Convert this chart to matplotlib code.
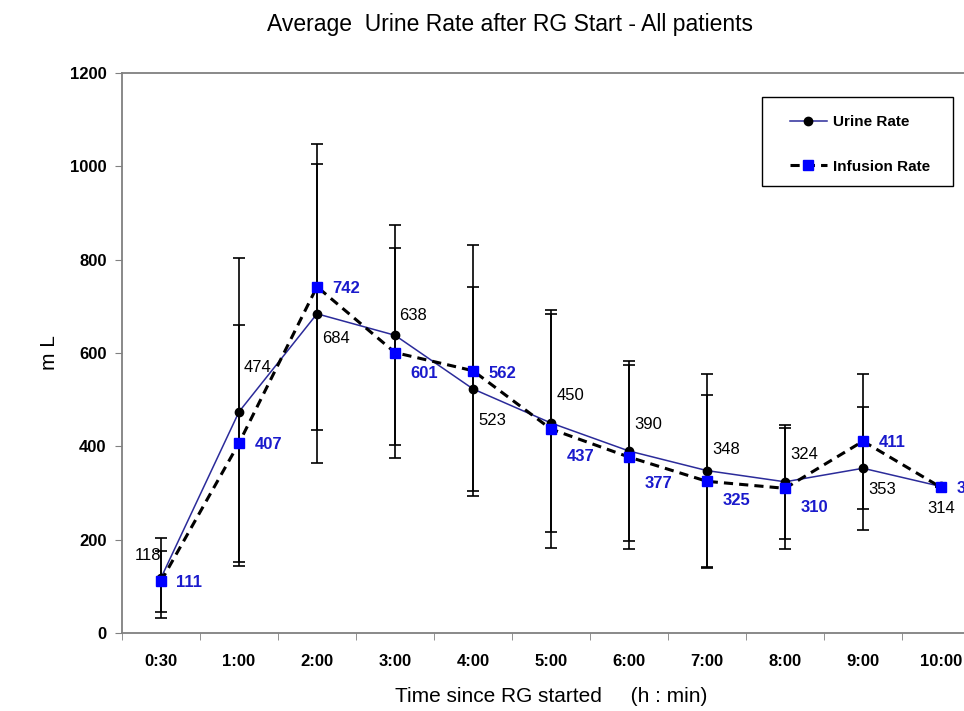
import numpy as np
from matplotlib import pyplot as plt
from matplotlib.patches import Rectangle

plt.rcParams['font.family'] = ['Liberation Sans', 'DejaVu Sans']

# values
times = ['0:30', '1:00', '2:00', '3:00', '4:00', '5:00', '6:00', '7:00', '8:00', '9:00', '10:00']
urine = [118, 474, 684, 638, 523, 450, 390, 348, 324, 353, 314]
urine_sd = [85, 330, 320, 236, 219, 234, 192, 206, 122, 132, 0]
infusion = [111, 407, 742, 601, 562, 437, 377, 325, 310, 411, 312]
infusion_sd = [65, 254, 306, 225, 269, 255, 198, 185, 129, 145, 0]

# label offsets in points (dx, dy)
urine_off = [(-9, 16), (13, 32), (14, -18), (13, 14), (14, -23), (14, 20), (14, 19), (14, 15), (14, 20), (14, -15), (0, -16)]
inf_off = [(11, -1), (11, -1), (11, -1), (11, -15), (11, -2), (11, -20), (11, -19), (11, -14), (11, -14), (11, -1), (11, -1)]

fig = plt.figure(figsize=(9.64, 7.11), dpi=100)
ax = fig.add_axes([122 / 964, 1 - 633 / 711, 858 / 964, 560 / 711])

x = np.arange(len(times))

ax.errorbar(x, urine, yerr=urine_sd, fmt='none', ecolor='black', elinewidth=1.2, capsize=4, capthick=1.2, zorder=2)
ax.errorbar(x, infusion, yerr=infusion_sd, fmt='none', ecolor='black', elinewidth=1.2, capsize=4, capthick=1.2, zorder=2)

ax.plot(x, urine, color='#2b2b9a', lw=1.1, marker='o', ms=6, mfc='black', mec='black', label='Urine Rate', zorder=3)
ax.plot(x, infusion, color='black', lw=2.2, ls=(0, (3, 2)), marker='s', ms=6.5, mfc='#0000ff', mec='#0000ff', label='Infusion Rate', zorder=4)

for i in range(len(times)):
    ax.annotate(str(urine[i]), (x[i], urine[i]), xytext=urine_off[i], textcoords='offset points',
                ha='center', va='center', fontsize=12, color='black', annotation_clip=False)
    ax.annotate(str(infusion[i]), (x[i], infusion[i]), xytext=inf_off[i], textcoords='offset points',
                ha='left', va='center', fontsize=12, color='#1a1acc', fontweight='bold', annotation_clip=False)

ax.set_xlim(-0.5, len(times) - 0.5)
ax.set_ylim(0, 1200)
ax.set_yticks(range(0, 1201, 200))
ax.set_xticks(x)
ax.set_xticklabels(times)
ax.set_xticks(np.arange(-0.5, len(times), 1), minor=True)
ax.tick_params(axis='x', which='major', length=0, pad=15, labelsize=12)
ax.tick_params(axis='x', which='minor', length=5, direction='out', color='#808080')
ax.tick_params(axis='y', length=5, direction='out', color='#808080', labelsize=12, pad=6)
for lab in ax.get_xticklabels() + ax.get_yticklabels():
    lab.set_fontweight('bold')
for s in ax.spines.values():
    s.set_color('#808080')
    s.set_linewidth(1.3)

ax.set_xlabel('Time since RG started     (h : min)', fontsize=15, labelpad=13)
ax.set_ylabel('m L', fontsize=15, labelpad=8)
fig.text(510 / 964, 1 - 25 / 711, 'Average  Urine Rate after RG Start - All patients', ha='center', va='center', fontsize=16.5)

# legend box drawn separately so the padding can match the original
box = Rectangle((762 / 964, 1 - 186 / 711), 191 / 964, 89 / 711, transform=fig.transFigure,
                facecolor='white', edgecolor='black', lw=1.0, zorder=5, clip_on=False)
ax.add_patch(box)
leg = ax.legend(loc='upper left', bbox_to_anchor=(790 / 964, 1 - 115 / 711), bbox_transform=fig.transFigure,
                frameon=False, fontsize=11, handlelength=2.4, labelspacing=2.0, borderpad=0,
                handletextpad=0.4, borderaxespad=0)
leg.set_zorder(6)
for t in leg.get_texts():
    t.set_fontweight('bold')

fig.savefig('out.png', dpi=100)
